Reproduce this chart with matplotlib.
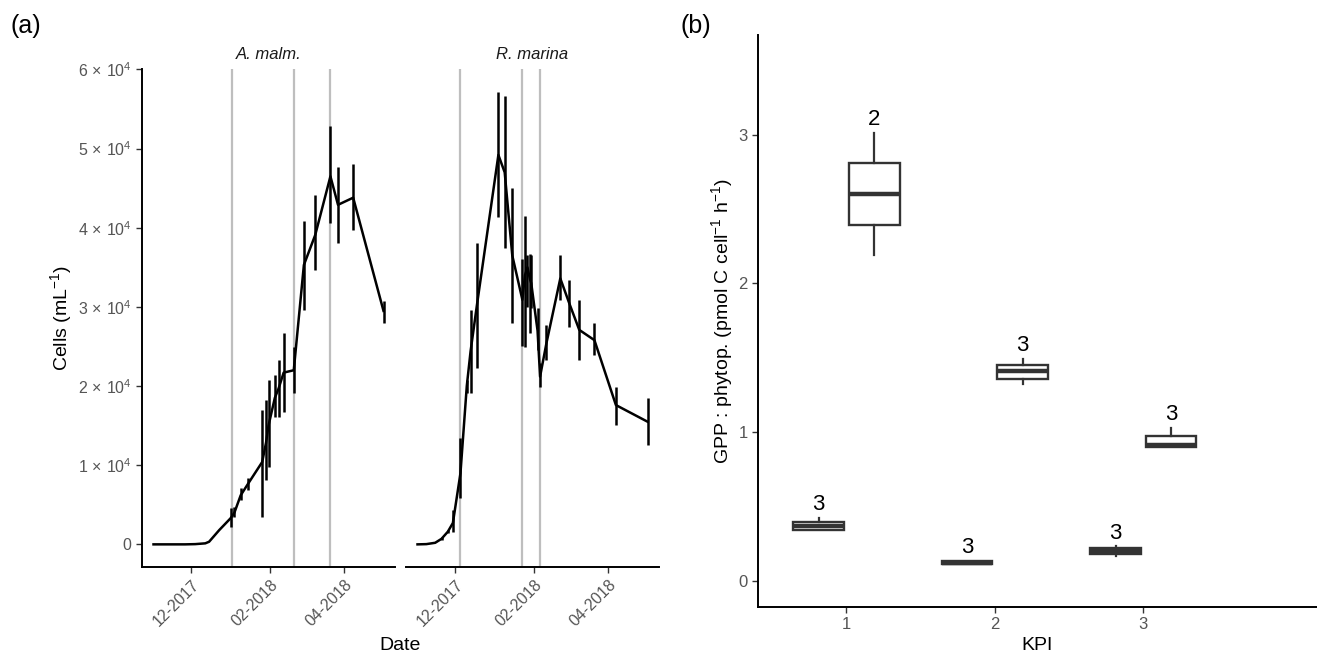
import matplotlib
matplotlib.use("Agg")
import matplotlib.pyplot as plt
import matplotlib.dates as mdates
import matplotlib.ticker as mticker
import pandas as pd
import numpy as np

plt.rcParams['font.family'] = ['Liberation Sans', 'DejaVu Sans']
plt.rcParams['mathtext.fontset'] = 'custom'
plt.rcParams['mathtext.rm'] = 'Liberation Sans'
plt.rcParams['mathtext.it'] = 'Liberation Sans:italic'
plt.rcParams['mathtext.bf'] = 'Liberation Sans:bold'

# ---------------- data: panel (a) ----------------
amalm_dates = ["2017-11-01", "2017-11-10", "2017-11-18", "2017-11-26", "2017-12-04",
               "2017-12-12", "2017-12-15", "2017-12-23", "2018-01-01", "2018-01-04",
               "2018-01-09", "2018-01-15", "2018-01-26", "2018-01-29", "2018-01-31",
               "2018-02-05", "2018-02-08", "2018-02-12", "2018-02-20", "2018-02-28",
               "2018-03-09", "2018-03-21", "2018-03-27", "2018-04-08", "2018-05-02"]
amalm_mean = [0, 0, 0, 0, 30, 130, 330, 1800, 3300, 4000, 6200, 7700, 10400, 12800,
              15000, 18500, 19700, 21700, 22000, 35300, 39100, 46500, 42900, 43800, 29500]
amalm_lo = [0, 0, 0, 0, 30, 130, 330, 1800, 2200, 3400, 5600, 6900, 3400, 8100,
            9800, 16100, 16100, 16700, 19100, 29600, 34700, 40600, 38100, 39700, 28000]
amalm_hi = [0, 0, 0, 0, 30, 130, 330, 1800, 4600, 4700, 7100, 8400, 17000, 18200,
            20800, 21400, 23300, 26700, 24900, 40800, 44200, 52800, 47700, 48000, 30800]
amalm_vlines = ["2018-01-02", "2018-02-20", "2018-03-21"]

rmarina_dates = ["2017-11-01", "2017-11-08", "2017-11-15", "2017-11-20", "2017-11-25",
                 "2017-11-29", "2017-12-05", "2017-12-10", "2017-12-13", "2017-12-18",
                 "2018-01-04", "2018-01-09", "2018-01-15", "2018-01-23", "2018-01-25",
                 "2018-01-27", "2018-01-29", "2018-01-30", "2018-02-04", "2018-02-06",
                 "2018-02-11", "2018-02-22", "2018-03-01", "2018-03-09", "2018-03-21",
                 "2018-04-07", "2018-05-02"]
rmarina_mean = [0, 30, 200, 700, 1600, 2700, 9000, 20000, 24400, 30200, 49200, 47000,
                36500, 30900, 34000, 35000, 33500, 33000, 27000, 21200, 25400, 33600,
                30500, 27100, 25800, 17600, 15500]
rmarina_lo = [0, 30, 200, 500, 1400, 1600, 5800, 19100, 19100, 22300, 41300, 37500,
              28000, 25000, 24900, 30000, 26700, 29900, 24600, 19900, 23300, 30900,
              27500, 23300, 23900, 15100, 12500]
rmarina_hi = [0, 30, 200, 900, 1800, 4300, 13400, 20800, 29600, 38100, 57200, 56700,
              45000, 36000, 41500, 36500, 36700, 36600, 29900, 22900, 27700, 36600,
              33400, 30900, 28000, 19900, 18500]
rmarina_vlines = ["2017-12-05", "2018-01-23", "2018-02-06"]

panel_names = ["A. malm.", "R. marina"]
date_ticks = ["2017-12-01", "2018-02-01", "2018-04-01"]
date_tick_labels = ["12-2017", "02-2018", "04-2018"]
cell_ticks = [0, 10000, 20000, 30000, 40000, 50000, 60000]

# ---------------- data: panel (b) ----------------
kpi = [1, 2, 3]
a_q1 = [0.343, 0.112, 0.180]
a_med = [0.365, 0.120, 0.200]
a_q3 = [0.392, 0.135, 0.220]
a_lo = [0.343, 0.112, 0.168]
a_hi = [0.420, 0.135, 0.230]
a_n = [3, 3, 3]
b_q1 = [2.39, 1.357, 0.896]
b_med = [2.60, 1.410, 0.910]
b_q3 = [2.81, 1.453, 0.970]
b_lo = [2.19, 1.320, 0.896]
b_hi = [3.01, 1.490, 1.027]
b_n = [2, 3, 3]

# ---------------- figure ----------------
W, H = 1317, 657
fig = plt.figure(figsize=(W / 100, H / 100), dpi=100)

def fr(x0, y0, x1, y1):
    return [x0 / W, 1 - y1 / H, (x1 - x0) / W, (y1 - y0) / H]

tick_col = '#555555'
ax1 = fig.add_axes(fr(142, 69, 395, 567))
ax2 = fig.add_axes(fr(406, 69, 659, 567))
axb = fig.add_axes(fr(758, 35, 1317, 607))

all_dates = pd.to_datetime(amalm_dates + rmarina_dates)
dmin, dmax = mdates.date2num(all_dates.min()), mdates.date2num(all_dates.max())
dr = dmax - dmin
xlim = (dmin - 0.05 * dr, dmax + 0.05 * dr)
ymax_data = max(max(amalm_hi), max(rmarina_hi))
ylim = (-0.05 * ymax_data, ymax_data * 1.05)

def sci_fmt(v, pos):
    if v == 0:
        return "0"
    m = int(round(v / 1e4))
    return r"$%d\,\times\,10^{4}$" % m

series = [(ax1, amalm_dates, amalm_mean, amalm_lo, amalm_hi, amalm_vlines),
          (ax2, rmarina_dates, rmarina_mean, rmarina_lo, rmarina_hi, rmarina_vlines)]
for i, (ax, d, m, lo, hi, vl) in enumerate(series):
    dd = pd.to_datetime(d)
    for v in pd.to_datetime(vl):
        ax.axvline(v, color='#BEBEBE', lw=1.6, zorder=1)
    ax.plot(dd, m, color='black', lw=1.8, zorder=3)
    ax.vlines(dd, lo, hi, color='black', lw=1.8, zorder=3)
    ax.set_xlim(xlim)
    ax.set_ylim(ylim)
    ax.set_xticks(pd.to_datetime(date_ticks))
    ax.set_xticklabels(date_tick_labels, rotation=45, ha='right', rotation_mode='anchor')
    for s in ['top', 'right']:
        ax.spines[s].set_visible(False)
    ax.spines['bottom'].set_linewidth(1.4)
    ax.spines['left'].set_linewidth(1.4)
    ax.tick_params(axis='both', colors='#333333', labelcolor=tick_col, labelsize=11.5,
                   length=4, width=1)
    ax.text(0.5, 1.015, panel_names[i], transform=ax.transAxes, ha='center', va='bottom',
            fontsize=12, style='italic', color='#1A1A1A')
    if i == 0:
        ax.set_yticks(cell_ticks)
        ax.yaxis.set_major_formatter(mticker.FuncFormatter(sci_fmt))
        ax.set_ylabel(r"Cells (mL$^{\mathregular{-1}}$)", fontsize=14, labelpad=3)
    else:
        ax.spines['left'].set_visible(False)
        ax.set_yticks([])

fig.text(400 / W, 1 - 646 / H, "Date", ha='center', va='center', fontsize=14)
fig.text(11 / W, 1 - 26 / H, "(a)", ha='left', va='center', fontsize=18)
fig.text(681 / W, 1 - 26 / H, "(b)", ha='left', va='center', fontsize=18)

# ---------------- panel (b) boxplots ----------------
edge = '#333333'
def make_stats(q1, med, q3, lo, hi):
    return [dict(q1=q1[k], med=med[k], q3=q3[k], whislo=lo[k], whishi=hi[k], fliers=[])
            for k in range(len(q1))]

off = 0.1875
for stats, sign, ns, his in [(make_stats(a_q1, a_med, a_q3, a_lo, a_hi), -1, a_n, a_hi),
                             (make_stats(b_q1, b_med, b_q3, b_lo, b_hi), 1, b_n, b_hi)]:
    pos = [k + sign * off for k in kpi]
    axb.bxp(stats, positions=pos, widths=0.34, showfliers=False, showcaps=False,
            patch_artist=True,
            boxprops=dict(facecolor='white', edgecolor=edge, linewidth=1.7),
            medianprops=dict(color=edge, linewidth=3.2, solid_capstyle='butt'),
            whiskerprops=dict(color=edge, linewidth=1.6))
    for p, n, h in zip(pos, ns, his):
        axb.text(p, h + 0.02, str(n), ha='center', va='bottom', fontsize=16, color='black')

axb.set_xlim(0.404, 4.17)
axb.set_ylim(-0.177, 3.67)
axb.set_xticks(kpi)
axb.set_xticklabels([str(k) for k in kpi])
axb.set_yticks([0, 1, 2, 3])
axb.set_yticklabels(['0', '1', '2', '3'])
for s in ['top', 'right']:
    axb.spines[s].set_visible(False)
axb.spines['bottom'].set_linewidth(1.4)
axb.spines['left'].set_linewidth(1.4)
axb.tick_params(axis='both', colors='#333333', labelcolor=tick_col, labelsize=12,
                length=4, width=1)
axb.set_xlabel("KPI", fontsize=14, labelpad=3)
axb.set_ylabel(r"GPP : phytop. (pmol C cell$^{\mathregular{-1}}$ h$^{\mathregular{-1}}$)",
               fontsize=14, labelpad=2)

fig.savefig("out.png", dpi=100)
